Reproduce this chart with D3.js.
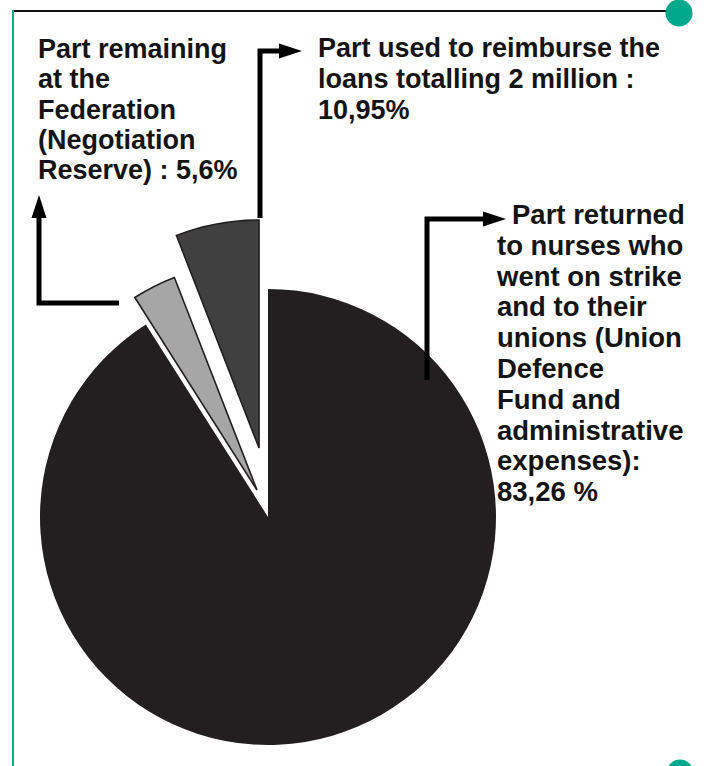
<!DOCTYPE html>
<html>
<head>
<meta charset="utf-8">
<script src="https://cdn.jsdelivr.net/npm/d3@7"></script>
<style>
  html, body { margin: 0; padding: 0; background: #ffffff; }
  svg { display: block; }
  text { font-family: "Liberation Sans", Arial, Helvetica, sans-serif; font-weight: bold; fill: #141414; }
</style>
</head>
<body>
<div id="chart"></div>
<script>
// ---- Data ----
const categories = ["Union Defence Fund", "Negotiation Reserve", "Loan reimbursement"];
// shares as drawn in the picture (slice angles), in percent
const sliceValues = [91.0, 3.1, 5.9];
// stated percentages shown in the labels
const statedPercents = ["83,26 %", "5,6%", "10,95%"];
const labelLines = [
  ["Part returned", "to nurses who", "went on strike", "and to their", "unions (Union", "Defence", "Fund and", "administrative", "expenses):", "83,26 %"],
  ["Part remaining", "at the", "Federation", "(Negotiation", "Reserve) : 5,6%"],
  ["Part used to reimburse the", "loans totalling 2 million :", "10,95%"]
];

// ---- Layout / style ----
const W = 710, H = 766;
const cx = 268, cy = 517, R = 228;
const fills = ["#231f20", "#a6a6a6", "#404040"];
const strokes = [null, "#231f20", "#231f20"];
const explode = [ {dist: 0, ang: 0}, {dist: 29.2, ang: -22.2}, {dist: 69.6, ang: -7.4} ];
const labelPos = [
  {x: 497, y: 224, lh: 30.8, firstX: 512, size: 27.5},
  {x: 38, y: 58, lh: 30.3, size: 27},
  {x: 318, y: 57, lh: 31, size: 27}
];
const connectors = [
  [[427, 380], [427, 219], [506, 219]],
  [[119, 303], [39, 303], [39, 195]],
  [[260, 218], [260, 51], [302, 51]]
];
const teal = "#00a98c";

const svg = d3.select("#chart").append("svg").attr("width", W).attr("height", H);

// frame
svg.append("line").attr("x1", 13).attr("y1", 11).attr("x2", 672).attr("y2", 11)
  .attr("stroke", "#111").attr("stroke-width", 2);
svg.append("line").attr("x1", 13).attr("y1", 10).attr("x2", 13).attr("y2", H)
  .attr("stroke", teal).attr("stroke-width", 2);
svg.append("circle").attr("cx", 679).attr("cy", 13).attr("r", 13.5).attr("fill", teal);
svg.append("circle").attr("cx", 680).attr("cy", 773).attr("r", 13.5).attr("fill", teal);

// pie
const pie = d3.pie().sort(null).value(d => d);
const arcs = pie(sliceValues);
const arc = d3.arc().innerRadius(0).outerRadius(R);

const g = svg.append("g").attr("transform", `translate(${cx},${cy})`);
g.selectAll("path.slice").data(arcs).join("path")
  .attr("class", "slice")
  .attr("d", arc)
  .attr("fill", (d, i) => fills[i])
  .attr("stroke", (d, i) => strokes[i] || "none")
  .attr("stroke-width", 1.6)
  .attr("stroke-linejoin", "miter")
  .attr("transform", (d, i) => {
    const a = explode[i].ang * Math.PI / 180;
    const dx = explode[i].dist * Math.sin(a), dy = -explode[i].dist * Math.cos(a);
    return `translate(${dx},${dy})`;
  });

// connectors with arrowheads
const line = d3.line();
const headLen = 23, headHalf = 7.5;
connectors.forEach(pts => {
  const n = pts.length;
  const [x1, y1] = pts[n - 2], [x2, y2] = pts[n - 1];
  const len = Math.hypot(x2 - x1, y2 - y1);
  const ux = (x2 - x1) / len, uy = (y2 - y1) / len;
  const bx = x2 - ux * headLen, by = y2 - uy * headLen;
  const body = pts.slice(0, n - 1).concat([[bx, by]]);
  svg.append("path").attr("d", line(body)).attr("fill", "none")
    .attr("stroke", "#000").attr("stroke-width", 5).attr("stroke-linejoin", "miter").attr("stroke-linecap", "butt");
  const px = -uy, py = ux;
  svg.append("path")
    .attr("d", line([[x2, y2], [bx + px * headHalf, by + py * headHalf], [bx - px * headHalf, by - py * headHalf]]) + "Z")
    .attr("fill", "#000");
});

// labels
labelLines.forEach((lines, i) => {
  const p = labelPos[i];
  const t = svg.append("text").attr("font-size", p.size);
  lines.forEach((s, j) => {
    t.append("tspan")
      .attr("x", j === 0 && p.firstX ? p.firstX : p.x)
      .attr("y", p.y + j * p.lh)
      .text(s);
  });
});
</script>
</body>
</html>
